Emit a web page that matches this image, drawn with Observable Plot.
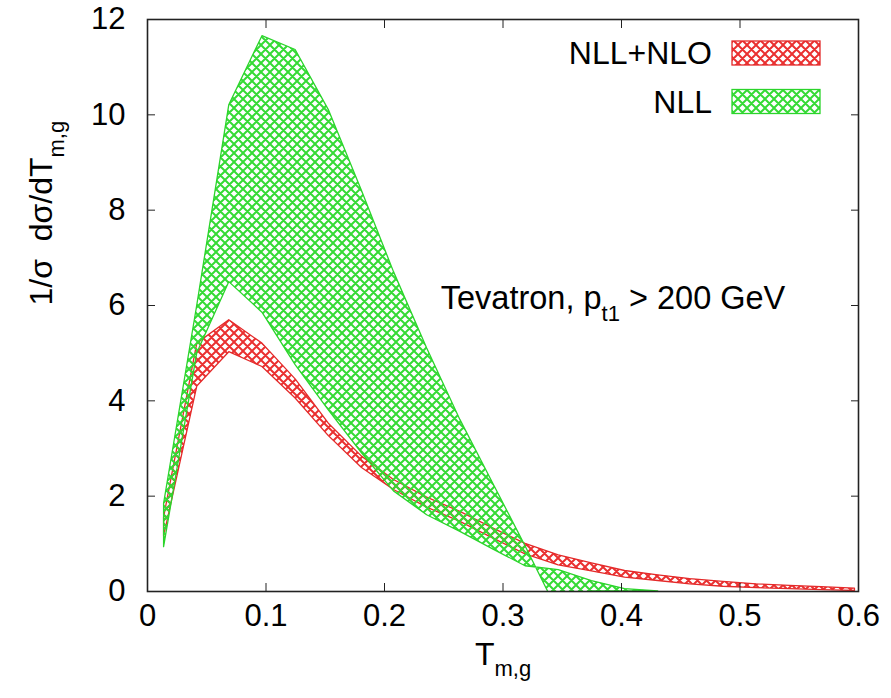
<!DOCTYPE html>
<html>
<head>
<meta charset="utf-8">
<script src="https://cdn.jsdelivr.net/npm/d3@7"></script>
<script src="https://cdn.jsdelivr.net/npm/@observablehq/plot@0.6"></script>
<style>
  body { margin: 0; background: #fff; }
  svg { display: block; }
</style>
</head>
<body>
<div id="chart"></div>
<script>
// ---- data ----
const T = [0.014, 0.042, 0.069, 0.097, 0.125, 0.153, 0.181, 0.208, 0.236, 0.264, 0.292,
           0.319, 0.347, 0.375, 0.403, 0.431, 0.458, 0.486, 0.514, 0.542, 0.569, 0.597];

// NLL+NLO band (red)
const nllNloLow  = [1.15, 4.30, 5.02, 4.71, 4.05, 3.26, 2.59, 2.13, 1.76, 1.46, 1.11,
                    0.78, 0.55, 0.42, 0.29, 0.22, 0.15, 0.10, 0.07, 0.05, 0.03, 0.01];
const nllNloHigh = [1.55, 5.20, 5.69, 5.20, 4.45, 3.52, 2.83, 2.34, 1.97, 1.67, 1.32,
                    1.00, 0.76, 0.59, 0.43, 0.34, 0.26, 0.20, 0.15, 0.12, 0.09, 0.06];

// NLL band (green) — two edges that cross near T = 0.32
const T_nll   = [0.014, 0.042, 0.069, 0.097, 0.125, 0.153, 0.181, 0.208, 0.236, 0.264, 0.292,
                 0.319, 0.347, 0.375, 0.403, 0.431];
const nllEdgeA = [1.84, 6.00, 10.20, 11.65, 11.36, 10.10, 8.40, 6.70, 5.10, 3.60, 2.25,
                  0.95, -0.45, 0, 0, 0];
const nllEdgeB = [0.93, 5.00, 6.49, 5.85, 4.75, 3.80, 2.90, 2.10, 1.60, 1.25, 0.88,
                  0.53, 0.45, 0.22, 0.05, 0];

const xTicks = [0, 0.1, 0.2, 0.3, 0.4, 0.5, 0.6];
const yTicks = [0, 2, 4, 6, 8, 10, 12];
const seriesNames = ["NLL+NLO", "NLL"];
const seriesStroke = ["#e42a2a", "#2bd42b"];
const seriesHatch = ["#ea3030", "#35da35"];
const xLabel = "T_{m,g}";
const yLabel = "1/\u03c3\u00a0 d\u03c3/dT_{m,g}";
const annotation = [{text: "Tevatron, p_{t1} > 200 GeV", x: 0.2475, y: 6.15}];

// ---- tables ----
const red = T.map((t, i) => ({t, lo: nllNloLow[i], hi: nllNloHigh[i]}));
const green = T_nll.map((t, i) => ({t, a: nllEdgeA[i], b: nllEdgeB[i]}));

const FS = 31;
const font = "'Liberation Sans', Arial, Helvetica, sans-serif";

function defsMark() {
  const g = d3.create("svg:g");
  const defs = g.append("defs");
  [["hatch0", seriesHatch[0]], ["hatch1", seriesHatch[1]]].forEach(([id, c]) => {
    const p = defs.append("pattern")
      .attr("id", id).attr("patternUnits", "userSpaceOnUse")
      .attr("width", 9).attr("height", 9);
    p.append("path")
      .attr("d", "M0,0L9,9M9,0L0,9M-2,2L2,-2M7,11L11,7M-2,7L2,11M7,-2L11,2")
      .attr("stroke", c).attr("stroke-width", 2.0).attr("fill", "none");
  });
  return g.node();
}

function legendMark(index, scales, values, dims) {
  const g = d3.create("svg:g");
  const right = dims.width - dims.marginRight;
  const top = dims.marginTop;
  seriesNames.forEach((name, i) => {
    const cy = top + 34 + i * 48.5;
    g.append("rect")
      .attr("x", right - 126).attr("y", cy - 12)
      .attr("width", 88).attr("height", 24)
      .attr("fill", `url(#hatch${i})`)
      .attr("stroke", seriesStroke[i]).attr("stroke-width", 1.3);
    g.append("text")
      .attr("x", right - 146).attr("y", cy).attr("dy", "0.35em")
      .attr("text-anchor", "end")
      .attr("font-size", FS + 1).attr("font-family", font)
      .attr("fill", "#000")
      .text(name);
  });
  return g.node();
}

const chart = Plot.plot({
  width: 891,
  height: 698,
  marginLeft: 147,
  marginRight: 33,
  marginTop: 19,
  marginBottom: 107,
  style: {fontFamily: font, fontSize: FS + "px", background: "#fff"},
  x: {domain: [0, 0.6]},
  y: {domain: [0, 12]},
  marks: [
    defsMark,
    Plot.areaY(red, {x: "t", y1: "lo", y2: "hi", fill: "url(#hatch0)",
      stroke: seriesStroke[0], strokeWidth: 1.3, clip: true}),
    Plot.areaY(green, {x: "t", y1: "b", y2: "a", fill: "url(#hatch1)",
      stroke: seriesStroke[1], strokeWidth: 1.3, clip: true}),
    // tick labels
    Plot.axisX(xTicks, {anchor: "bottom", tickSize: 0, tickPadding: 12, fontSize: FS,
      label: null, tickFormat: d => String(+d.toFixed(1))}),
    Plot.axisY(yTicks, {anchor: "left", tickSize: 0, tickPadding: 22, fontSize: FS,
      label: null, tickFormat: d => String(d)}),
    // inward ticks on all four sides
    Plot.axisX(xTicks, {anchor: "bottom", tickSize: -8, label: null, tickFormat: () => "", stroke: "#222"}),
    Plot.axisX(xTicks, {anchor: "top", tickSize: -8, label: null, tickFormat: () => "", stroke: "#222"}),
    Plot.axisY(yTicks, {anchor: "left", tickSize: -8, label: null, tickFormat: () => "", stroke: "#222"}),
    Plot.axisY(yTicks, {anchor: "right", tickSize: -8, label: null, tickFormat: () => "", stroke: "#222"}),
    Plot.frame({stroke: "#222", strokeWidth: 1.6}),
    // axis titles
    Plot.text([yLabel], {frameAnchor: "left", rotate: -90, dx: -106, fontSize: FS + 1}),
    Plot.text([xLabel], {frameAnchor: "bottom", dy: 73, fontSize: FS + 1}),
    // annotation
    Plot.text(annotation, {x: "x", y: "y", text: "text", textAnchor: "start", fontSize: FS + 1.5}),
    legendMark
  ]
});

// subscripts: turn "_{...}" into lowered, smaller tspans
d3.select(chart).selectAll("text").each(function () {
  const s = this.textContent;
  if (!s.includes("_{")) return;
  const parts = s.split(/(_\{[^}]*\})/).filter(p => p);
  this.textContent = "";
  const shift = FS * 0.38;
  let lowered = false;
  for (const p of parts) {
    const t = document.createElementNS("http://www.w3.org/2000/svg", "tspan");
    if (p.startsWith("_{")) {
      t.textContent = p.slice(2, -1);
      t.setAttribute("font-size", Math.round(FS * 0.72));
      t.setAttribute("dy", shift);
      lowered = true;
    } else {
      t.textContent = p;
      if (lowered) { t.setAttribute("dy", -shift); lowered = false; }
    }
    this.appendChild(t);
  }
});

document.getElementById("chart").appendChild(chart);
</script>
</body>
</html>
